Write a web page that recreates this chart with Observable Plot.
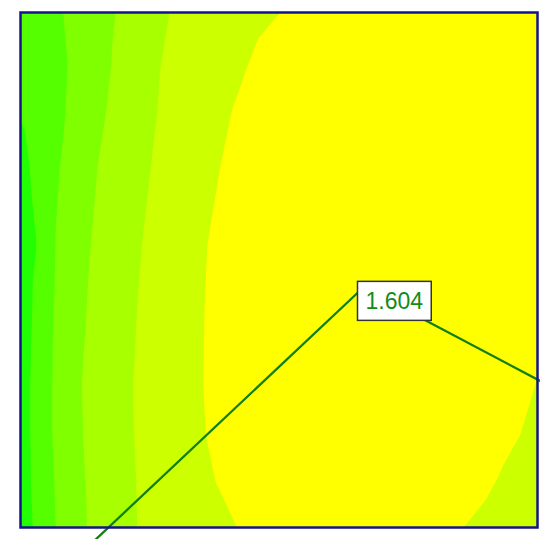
<!DOCTYPE html>
<html>
<head>
<meta charset="utf-8">
<script src="https://cdn.jsdelivr.net/npm/d3@7"></script>
<script src="https://cdn.jsdelivr.net/npm/@observablehq/plot@0.6"></script>
<style>
  body { margin: 0; background: #ffffff; }
  #chart svg { display: block; }
</style>
</head>
<body>
<div id="chart"></div>
<script>
// Sample columns (x) and rows (y) of the measured surface.
const colX = [0, 0.15, 0.3, 0.5, 0.7, 0.9, 1.2, 1.5, 1.9, 2.3, 2.7, 3.1, 3.6, 4.2, 5.0, 6.5, 8.0, 9.0, 10];
const rowY = [10, 9, 8, 7, 5.5, 4.3, 2.8, 1.8, 0.9, 0];

// Surface values, one row per entry of rowY, one column per entry of colX.
const grid = [
  [1.120, 1.135, 1.149, 1.168, 1.187, 1.207, 1.237, 1.267, 1.306, 1.348, 1.389, 1.413, 1.436, 1.463, 1.499, 1.595, 1.595, 1.590, 1.580],
  [1.115, 1.129, 1.143, 1.162, 1.181, 1.199, 1.235, 1.271, 1.316, 1.358, 1.399, 1.423, 1.452, 1.487, 1.537, 1.597, 1.596, 1.592, 1.585],
  [1.102, 1.117, 1.134, 1.158, 1.180, 1.204, 1.244, 1.284, 1.328, 1.368, 1.406, 1.434, 1.468, 1.509, 1.561, 1.599, 1.598, 1.594, 1.586],
  [1.070, 1.096, 1.122, 1.156, 1.191, 1.220, 1.261, 1.301, 1.341, 1.381, 1.415, 1.445, 1.482, 1.523, 1.574, 1.601, 1.600, 1.595, 1.585],
  [1.050, 1.075, 1.098, 1.155, 1.206, 1.236, 1.280, 1.317, 1.356, 1.396, 1.428, 1.460, 1.499, 1.538, 1.589, 1.603, 1.600, 1.594, 1.582],
  [1.050, 1.080, 1.118, 1.170, 1.213, 1.244, 1.291, 1.325, 1.365, 1.404, 1.435, 1.465, 1.503, 1.541, 1.593, 1.604, 1.600, 1.590, 1.570],
  [1.055, 1.090, 1.130, 1.177, 1.217, 1.252, 1.302, 1.333, 1.374, 1.411, 1.440, 1.469, 1.505, 1.544, 1.590, 1.600, 1.585, 1.560, 1.498],
  [1.055, 1.090, 1.130, 1.177, 1.217, 1.250, 1.299, 1.331, 1.372, 1.410, 1.438, 1.466, 1.501, 1.540, 1.585, 1.595, 1.575, 1.540, 1.480],
  [1.055, 1.088, 1.124, 1.169, 1.210, 1.244, 1.294, 1.327, 1.368, 1.406, 1.432, 1.457, 1.489, 1.528, 1.570, 1.580, 1.550, 1.510, 1.460],
  [1.050, 1.080, 1.115, 1.160, 1.204, 1.238, 1.290, 1.325, 1.366, 1.404, 1.424, 1.444, 1.470, 1.501, 1.530, 1.545, 1.520, 1.485, 1.450]
];

// Contour levels and the fill of each band.
const levels = [1.0, 1.1, 1.2, 1.3, 1.4, 1.5];
const bandBreaks = [1.05, 1.15, 1.25, 1.35, 1.45];
const bandColors = ["#22ff00", "#55ff00", "#80ff00", "#a8ff00", "#ccff00", "#ffff00"];

// Guide line through the peak, running past the frame on both sides.
const guideX = [1.33, 6.63, 10.25];
const guideY = [-0.35, 4.66, 2.74];

const samples = rowY.flatMap((y, i) => colX.map((x, j) => ({x, y, v: grid[i][j]})));
const guide = guideX.map((x, i) => ({x, y: guideY[i]}));
const peakLabel = d3.format(".3f")(d3.max(grid.flat()));

const chart = Plot.plot({
  width: 540,
  height: 539,
  marginLeft: 20,
  marginRight: 3,
  marginTop: 12,
  marginBottom: 12,
  x: {domain: [0, 10], axis: null},
  y: {domain: [0, 10], axis: null},
  color: {type: "threshold", domain: bandBreaks, range: bandColors},
  marks: [
    Plot.contour(samples, {
      x: "x", y: "y", fill: "v",
      interpolate: "barycentric",
      thresholds: levels,
      pixelSize: 1
    }),
    Plot.line(guide, {x: "x", y: "y", stroke: "#118011", strokeWidth: 2.3}),
    Plot.text([guide[1]], {
      x: "x", y: "y",
      text: () => peakLabel,
      dx: 31, dy: 14,
      fontSize: 23,
      fontFamily: "Liberation Sans, Arial, sans-serif",
      fill: "#148c14"
    }),
    Plot.frame({stroke: "#14148a", strokeWidth: 2.5})
  ]
});

document.getElementById("chart").append(chart);

// White box with a thin border behind the value label.
const label = Array.from(chart.querySelectorAll("text")).find((t) => t.textContent === peakLabel);
if (label) {
  const b = label.getBBox();
  const box = document.createElementNS("http://www.w3.org/2000/svg", "rect");
  box.setAttribute("x", b.x - 8);
  box.setAttribute("y", b.y - 6.5);
  box.setAttribute("width", b.width + 16);
  box.setAttribute("height", b.height + 13);
  box.setAttribute("fill", "#ffffff");
  box.setAttribute("stroke", "#333333");
  box.setAttribute("stroke-width", 1.5);
  const tf = label.getAttribute("transform");
  if (tf) box.setAttribute("transform", tf);
  label.parentNode.insertBefore(box, label);
}
</script>
</body>
</html>
